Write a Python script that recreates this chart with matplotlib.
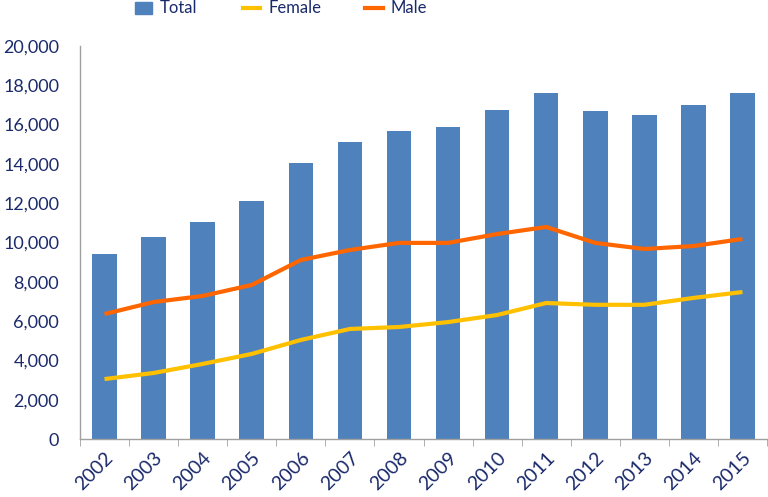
import numpy as np
import matplotlib
matplotlib.use("Agg")
import matplotlib.pyplot as plt
from matplotlib.lines import Line2D
from matplotlib.patches import Rectangle

plt.rcParams['font.family'] = ['Lato', 'DejaVu Sans']

# data
years = ['2002', '2003', '2004', '2005', '2006', '2007', '2008',
         '2009', '2010', '2011', '2012', '2013', '2014', '2015']
total = [9400, 10300, 11050, 12100, 14050, 15100, 15650,
         15880, 16750, 17620, 16700, 16500, 17000, 17620]
female = [3050, 3360, 3820, 4330, 5040, 5600, 5700,
          5950, 6310, 6920, 6830, 6830, 7180, 7480]
male = [6360, 6970, 7280, 7840, 9110, 9620, 9980,
        9980, 10430, 10790, 9980, 9670, 9820, 10180]

navy = '#1b2a6b'
c_total = '#4f81bd'
c_female = '#ffc000'
c_male = '#ff6600'

W, H = 768, 497
fig = plt.figure(figsize=(W / 100, H / 100), dpi=100)
ax = fig.add_axes([80/W, 1 - 439/H, 687/W, 393/H])

x = np.arange(len(years))
ax.bar(x, total, width=0.5, color=c_total, zorder=2)
ax.plot(x, female, color=c_female, lw=3, solid_capstyle='butt', zorder=3)
ax.plot(x, male, color=c_male, lw=3, solid_capstyle='butt', zorder=3)

ax.set_xlim(-0.5, len(years) - 0.5)
ax.set_ylim(0, 20000)
ax.set_yticks(np.arange(0, 20001, 2000))
ax.set_yticklabels([f"{v:,}" for v in range(0, 20001, 2000)])
ax.tick_params(axis='y', length=0, pad=15, labelsize=13, labelcolor=navy)

ax.set_xticks(x)
ax.set_xticklabels(years, rotation=45, ha='right', va='top',
                   rotation_mode='anchor', fontsize=14, color=navy)
ax.tick_params(axis='x', length=0, pad=7)
ax.set_xticks(np.arange(-0.5, len(years), 1), minor=True)
ax.tick_params(axis='x', which='minor', length=5, color='#a0a0a0')

for s in ['top', 'right']:
    ax.spines[s].set_visible(False)
for s in ['left', 'bottom']:
    ax.spines[s].set_color('#a0a0a0')
    ax.spines[s].set_linewidth(1)

# legend drawn by hand across the top
ly = 1 - 8/H
fig.add_artist(Rectangle((135/W, 1 - 14/H), 17/W, 12/H, color=c_total,
                         transform=fig.transFigure))
fig.text(160/W, ly, 'Total', fontsize=12, color=navy, va='center')
fig.add_artist(Line2D([243/W, 260/W], [ly, ly], color=c_female, lw=3,
                      transform=fig.transFigure))
fig.text(268/W, ly, 'Female', fontsize=12, color=navy, va='center')
fig.add_artist(Line2D([365/W, 383/W], [ly, ly], color=c_male, lw=3,
                      transform=fig.transFigure))
fig.text(391/W, ly, 'Male', fontsize=12, color=navy, va='center')

fig.savefig('out.png', dpi=100, facecolor='white')
